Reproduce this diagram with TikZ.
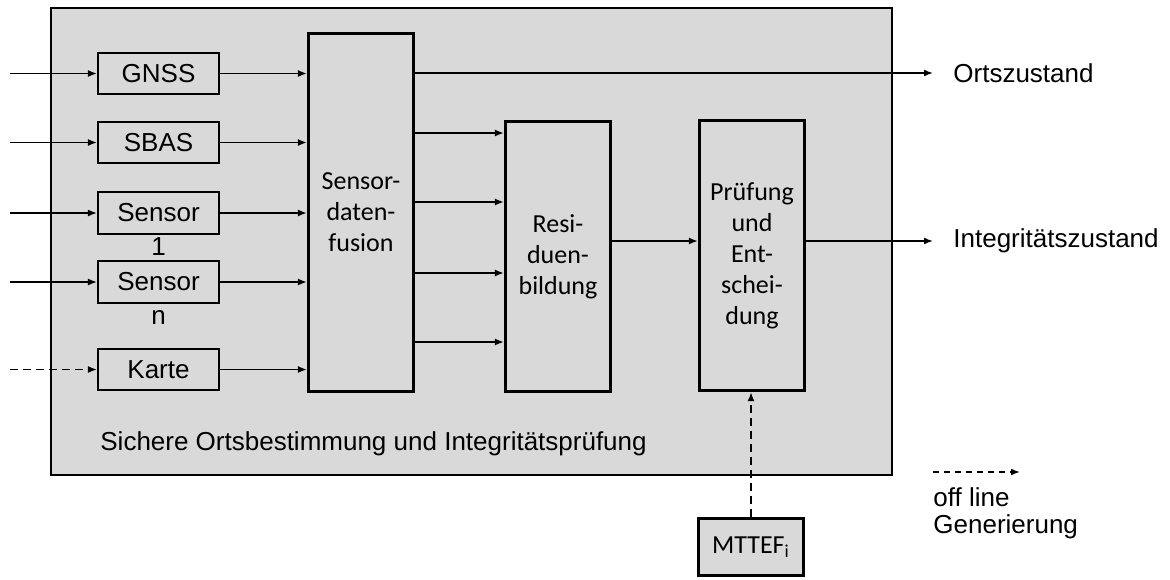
\documentclass[tikz,border=0pt]{standalone}
\usepackage{fontspec}
\setmainfont{Liberation Sans}
\newfontfamily\calib{Carlito}
\usetikzlibrary{arrows.meta,positioning}
\definecolor{boxgray}{HTML}{D9D9D9}

\begin{document}
\begin{tikzpicture}[x=0.5pt,y=-0.5pt,font=\fontsize{13}{15.5}\selectfont,>=Latex,
 system/.style={draw,line width=1pt,fill=boxgray,minimum width=420.5pt,minimum height=233.5pt,inner sep=0pt},
 sensor/.style={draw,line width=0.8pt,fill=boxgray,minimum width=60.75pt,minimum height=20.75pt,inner sep=0pt},
 stage/.style={draw,line width=1.6pt,fill=boxgray,minimum width=52.5pt,align=center,inner sep=0pt,font=\calib\fontsize{13}{15.5}\selectfont},
 numlabel/.style={anchor=base,inner sep=0pt,label distance=10.5pt},
 outtext/.style={anchor=west,inner xsep=10pt,inner ysep=0pt},
 flow/.style={-{Latex[length=4.5pt,width=3.5pt]},line width=0.8pt},
 offline/.style={flow,dash pattern=on 4pt off 2.5pt}]
\useasboundingbox (0,0) rectangle (1170,579);
\node[system] (sys) at (471.5,241.5) {};
\node[sensor] (gnss) at (158.5,73.5) {GNSS};
\node[sensor] (sbas) at (158.5,142.5) {SBAS};
\node[sensor,label={[numlabel]below:1}] (sen1) at (158.5,213) {Sensor};
\node[sensor,label={[numlabel]below:n}] (senn) at (158.5,282) {Sensor};
\node[sensor] (karte) at (158.5,369.5) {Karte};
\node[stage,minimum height=179pt] (fusion) at (361,212.5) {Sensor-\\daten-\\fusion};
\node[stage,minimum height=135pt] (resi) at (558,256.5) {Resi-\\duen-\\bildung};
\node[stage,minimum height=135pt] (pruef) at (752,255.5) {Prüfung\\und\\Ent-\\schei-\\dung};
\node[stage,minimum height=28.5pt] (mttef) at (751,547) {MTTEF\textsubscript{i}};
\node[anchor=west,inner sep=0pt] (title) at (100,444) {Sichere Ortsbestimmung und Integritätsprüfung};
\node[outtext] (ort) at (933,73) {Ortszustand};
\node[outtext] (integ) at (933,241) {Integritätszustand};
\coordinate (src) at (10,0);
\coordinate (lega) at (933,472);
\coordinate (legb) at (1020,472);
\node[anchor=north west,align=left,inner sep=0pt,font=\fontsize{13}{13.5}\selectfont] (legtext) at (933,487) {off line\\Generierung};
% inputs
\foreach \n in {gnss,sbas,sen1,senn} \draw[flow] (src |- \n.west) -- (\n.west);
\draw[offline] (src |- karte.west) -- (karte.west);
\foreach \n in {gnss,sbas,sen1,senn,karte} \draw[flow] (\n.east) -- (\n.east -| fusion.west);
% fusion outputs
\draw[flow] (fusion.east |- ort.west) -- (ort.west);
\foreach \y in {133,202,273,342} \draw[flow] (fusion.east |- 0,\y) -- (resi.west |- 0,\y);
\draw[flow] (resi.east |- integ.west) -- (pruef.west |- integ.west);
\draw[flow] (pruef.east |- integ.west) -- (integ.west);
% off line
\draw[offline,line width=1pt] (mttef.north) -- (mttef.north |- pruef.south);
\draw[offline,dash pattern=on 3pt off 2.5pt] (lega) -- (legb);
\end{tikzpicture}
\end{document}
